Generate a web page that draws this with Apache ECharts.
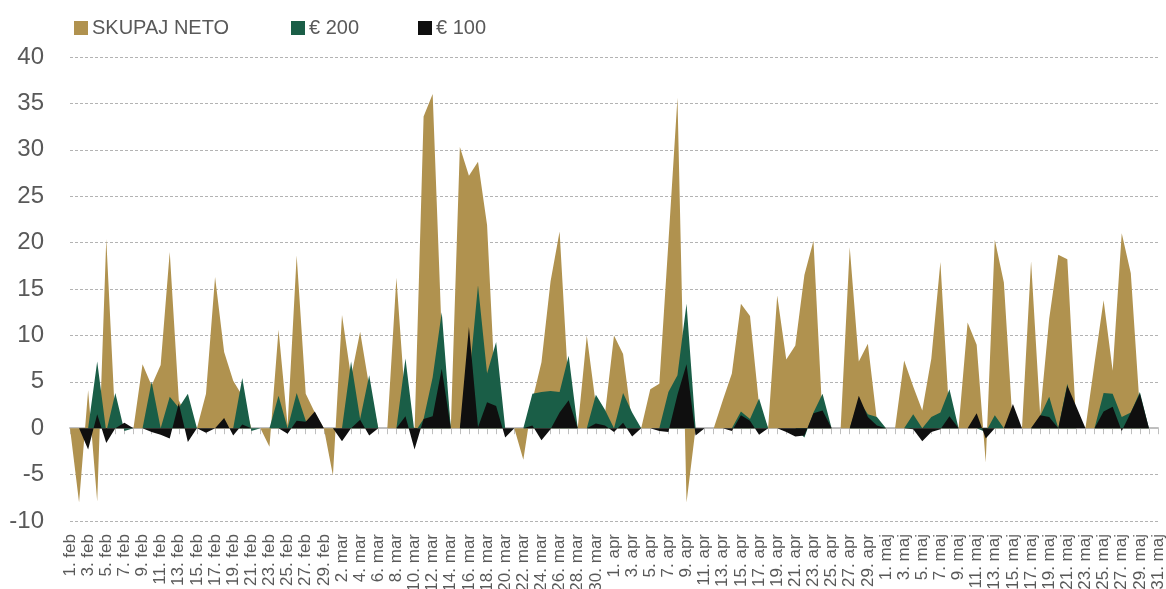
<!DOCTYPE html>
<html>
<head>
<meta charset="utf-8">
<script src="https://cdn.jsdelivr.net/npm/echarts@6/dist/echarts.min.js"></script>
<style>
  html, body { margin: 0; padding: 0; background: #fff; }
  #main { width: 1166px; height: 589px; }
</style>
</head>
<body>
<div id="main"></div>
<script>
// day labels 1. feb .. 31. maj
var months = ['feb', 'mar', 'apr', 'maj'];
var monthDays = [29, 31, 30, 31];
var days = [];
months.forEach(function (m, k) {
  for (var d = 1; d <= monthDays[k]; d++) days.push(d + '. ' + m);
});

var seriesNames = ['SKUPAJ NETO', '€ 200', '€ 100'];

// skupaj neto
var totalNet = [
  0, -8.0, 4.1, -7.9, 20.4, 0.5, 0, 0, 6.9, 4.6,
  6.8, 19.0, 3.0, 1.0, 0, 3.7, 16.3, 8.2, 5.1, 3.5,
  0, 0, -2.0, 10.6, 0.3, 18.6, 3.7, 1.7, 0, -5.1,
  12.2, 5.5, 10.4, 4.5, 0, 0, 16.2, 2.5, -0.5, 33.6,
  36.0, 10.0, 0, 30.3, 27.2, 28.7, 21.9, 2.0, 0, 0,
  -3.4, 3.0, 7.1, 15.8, 21.2, 4.0, 0, 10.0, 2.5, 1.5,
  10.0, 8.0, 0.5, 0, 4.2, 4.8, 20.0, 35.6, -8.0, 0,
  0, 0, 3.0, 5.9, 13.4, 12.1, 2.5, 0, 14.3, 7.4,
  8.9, 16.5, 20.2, 1.0, 0, 0, 19.5, 7.2, 9.1, 0.8,
  0, 0, 7.3, 4.5, 1.9, 7.5, 17.9, 1.0, 0, 11.4,
  9.0, -3.7, 20.3, 15.7, 0, 0, 18.0, 1.5, 11.8, 18.7,
  18.2, 0, 0, 7.0, 13.8, 6.2, 21.0, 16.7, 2.0, 0,
  0
];

// € 200
var eur200 = [
  0, 0, 0, 7.2, -0.4, 3.8, -0.3, 0, 0, 5.0,
  0, 3.4, 2.2, 3.7, 0, 0, 0, 0, 0, 5.4,
  -0.3, 0, 0, 3.5, 0, 3.8, 0.8, 0, 0, 0,
  0, 7.2, 1.0, 5.7, 0, 0, 0, 7.5, -0.5, 1.0,
  5.5, 12.5, 0, 0, 5.0, 15.4, 5.9, 9.3, 0, 0,
  0, 3.7, 3.9, 4.0, 3.9, 7.8, 0, 0, 3.6, 2.0,
  0, 3.8, 1.7, 0, 0, 0, 3.9, 5.7, 13.4, 0,
  0, 0, 0, 0, 1.8, 1.0, 3.2, 0, 0, 0,
  0, -1.0, 1.7, 3.7, 0, 0, 0, 3.0, 1.5, 1.2,
  0, 0, 0, 1.5, 0, 1.2, 1.7, 4.2, 0, 0,
  0, -0.4, 1.4, 0, 0, 0, 0, 1.3, 3.4, 0,
  4.8, 0, 0, 0, 3.8, 3.7, 1.2, 1.7, 3.9, 0,
  0
];

// € 100
var eur100 = [
  0, 0, -2.3, 1.5, -1.6, 0, 0.6, 0, 0, -0.4,
  -0.7, -1.1, 2.7, -1.5, 0, -0.5, 0, 1.1, -0.8, 0.4,
  0, 0, 0, 0, -0.6, 0.8, 0.7, 1.8, 0, 0,
  -1.4, 0, 0.9, -0.8, 0, 0, 0, 1.3, -2.3, 1.0,
  1.3, 6.4, 0, 0, 10.9, 0.1, 2.8, 2.4, -1.0, 0,
  0, 0.3, -1.3, -0.1, 1.7, 3.0, 0, 0, 0.5, 0.3,
  -0.4, 0.6, -0.9, 0, 0, -0.3, -0.4, 3.6, 6.9, -0.8,
  0, 0, 0, -0.3, 1.4, 0.8, -0.7, 0, 0, -0.4,
  -0.9, -0.8, 1.6, 1.9, 0, 0, 0, 3.5, 1.2, 0.3,
  0, 0, 0, -0.1, -1.4, -0.4, -0.1, 1.3, 0, 0,
  1.6, -1.1, 0, 0, 2.6, 0, 0, 1.4, 1.2, 0,
  4.6, 2.3, 0, 0, 1.8, 2.3, -0.3, 1.7, 3.7, 0,
  0
];

var colors = ['#b0924f', '#1a5e47', '#0f0f0f'];
var textColor = '#595959';

function areaSeries(name, data, idx) {
  return {
    name: name,
    type: 'line',
    data: data,
    xAxisIndex: 0,
    showSymbol: false,
    symbol: 'none',
    lineStyle: { width: 0 },
    areaStyle: { color: colors[idx], opacity: 1 },
    itemStyle: { color: colors[idx] },
    z: 2 + idx
  };
}

// one legend per entry, like the spaced-out excel legend
var legendLeft = [69, 286, 413];
var legends = seriesNames.map(function (n, k) {
  return {
    data: [n],
    left: legendLeft[k],
    top: 13,
    icon: 'rect',
    itemWidth: 14,
    itemHeight: 14,
    itemGap: 0,
    selectedMode: false,
    textStyle: { color: textColor, fontSize: 20, padding: [0, 0, 0, -1] }
  };
});

var myChart = echarts.init(document.getElementById('main'));
var option = {
  animation: false,
  backgroundColor: '#ffffff',
  textStyle: { fontFamily: 'Liberation Sans, Arial, sans-serif' },
  legend: legends,
  grid: { left: 70, right: 8, top: 57, bottom: 68, outerBoundsMode: 'none', containLabel: false },
  xAxis: [
    {
      type: 'category',
      data: days,
      boundaryGap: false,
      axisLine: { onZero: true, lineStyle: { color: '#bfbfbf', width: 2 } },
      axisTick: { show: true, interval: 0, length: 6, lineStyle: { color: '#bfbfbf', width: 1 } },
      axisLabel: { show: false },
      splitLine: { show: false }
    },
    {
      type: 'category',
      data: days,
      boundaryGap: false,
      position: 'bottom',
      axisLine: { show: false, onZero: false },
      axisTick: { show: false },
      axisLabel: {
        show: true,
        interval: 1,
        rotate: 90,
        margin: 13,
        color: textColor,
        fontSize: 17
      },
      splitLine: { show: false }
    }
  ],
  yAxis: {
    type: 'value',
    min: -10,
    max: 40,
    interval: 5,
    axisLine: { show: false },
    axisTick: { show: false },
    axisLabel: { color: textColor, fontSize: 24, margin: 26 },
    splitLine: { show: true, lineStyle: { color: '#b3b3b3', type: [3, 2], width: 1 } }
  },
  series: [
    areaSeries(seriesNames[0], totalNet, 0),
    areaSeries(seriesNames[1], eur200, 1),
    areaSeries(seriesNames[2], eur100, 2)
  ]
};
myChart.setOption(option);
</script>
</body>
</html>
